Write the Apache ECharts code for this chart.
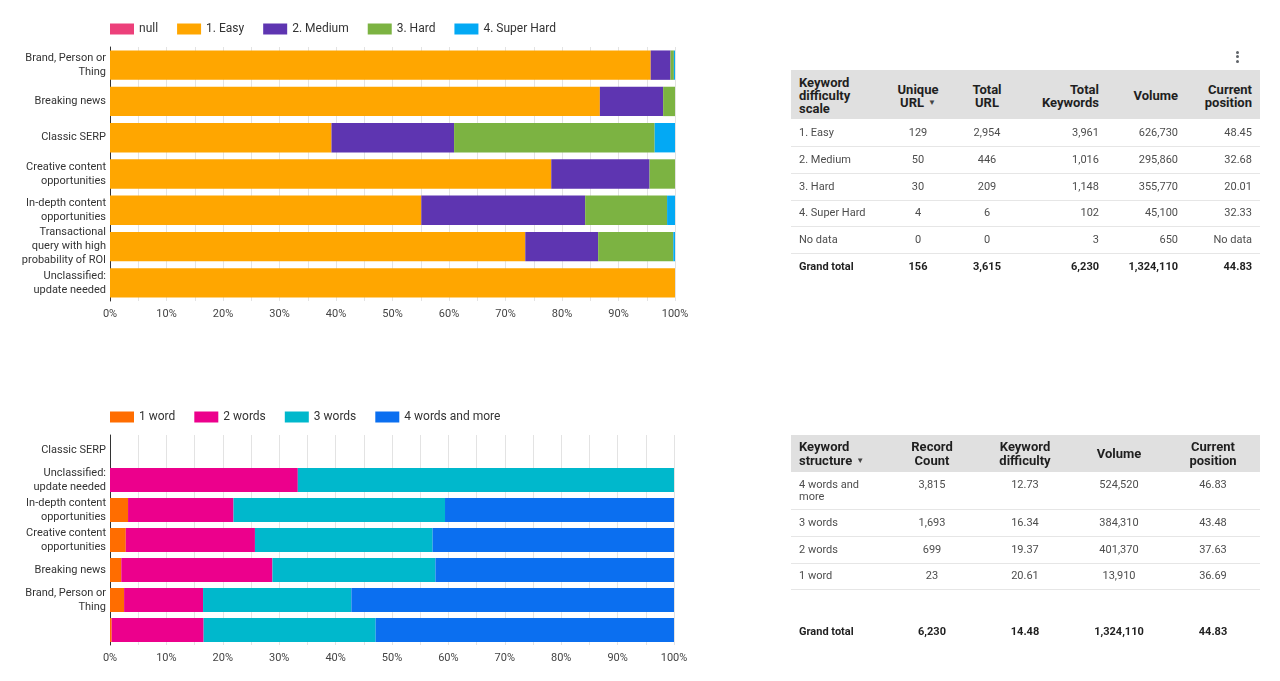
<!DOCTYPE html>
<html>
<head>
<meta charset="utf-8">
<script src="https://cdn.jsdelivr.net/npm/echarts/dist/echarts.min.js"></script>
<style>
html,body{margin:0;padding:0;background:#fff;width:1280px;height:681px;overflow:hidden;}
#chart{position:absolute;left:0;top:0;width:1280px;height:681px;}
.t{position:absolute;font-family:Roboto,"Noto Sans",sans-serif;font-size:11px;white-space:pre;color:#4d4d4d;}
.h{font-weight:bold;color:#1f1f1f;font-size:13px;}
.caret{font-size:8px;color:#444;vertical-align:2px;margin-left:4px;}
.g{font-weight:bold;color:#1f1f1f;}
.bg{position:absolute;background:#e0e0e0;}
.sep{position:absolute;height:1px;background:#e6e6e6;}
.dot{position:absolute;width:3px;height:3px;border-radius:50%;background:#5f6368;}
</style>
</head>
<body>
<div id="chart"></div>
<div id="tables"></div>
<script>
// ---------- Data: chart 1 (keyword difficulty share per category, %) ----------
const difficultyCategories = ['Brand, Person or\nThing', 'Breaking news', 'Classic SERP', 'Creative content\nopportunities', 'In-depth content\nopportunities', 'Transactional\nquery with high\nprobability of ROI', 'Unclassified:\nupdate needed'];
const difficultyNames = ['null', '1. Easy', '2. Medium', '3. Hard', '4. Super Hard'];
const nullShare      = [0, 0, 0, 0, 0, 0, 0];
const easyShare      = [95.7, 86.7, 39.2, 78.1, 55.1, 73.5, 100];
const mediumShare    = [3.5, 11.2, 21.7, 17.4, 29.0, 12.9, 0];
const hardShare      = [0.6, 2.1, 35.5, 4.5, 14.5, 13.3, 0];
const superHardShare = [0.2, 0, 3.6, 0, 1.4, 0.3, 0];

// ---------- Data: chart 2 (keyword structure share per category, %) ----------
const structureCategories = ['Classic SERP', 'Unclassified:\nupdate needed', 'In-depth content\nopportunities', 'Creative content\nopportunities', 'Breaking news', 'Brand, Person or\nThing', ''];
const structureNames = ['1 word', '2 words', '3 words', '4 words and more'];
const oneWordShare   = [0, 0, 3.2, 2.8, 2.0, 2.5, 0.3];
const twoWordsShare  = [0, 33.3, 18.7, 22.9, 26.8, 14.0, 16.3];
const threeWordsShare= [0, 66.7, 37.5, 31.5, 28.9, 26.3, 30.5];
const fourPlusShare  = [0, 0, 40.6, 42.8, 42.3, 57.2, 52.9];

const percentTicks = [0, 10, 20, 30, 40, 50, 60, 70, 80, 90, 100];

// ---------- Data: tables ----------
const difficultyHeaders = ['Keyword\ndifficulty\nscale', 'Unique\nURL', 'Total\nURL', 'Total\nKeywords', 'Volume', 'Current\nposition'];
const difficultySortCol = 1;
const difficultyRows = [
  ['1. Easy', '129', '2,954', '3,961', '626,730', '48.45'],
  ['2. Medium', '50', '446', '1,016', '295,860', '32.68'],
  ['3. Hard', '30', '209', '1,148', '355,770', '20.01'],
  ['4. Super Hard', '4', '6', '102', '45,100', '32.33'],
  ['No data', '0', '0', '3', '650', 'No data']
];
const difficultyTotal = ['Grand total', '156', '3,615', '6,230', '1,324,110', '44.83'];

const structureHeaders = ['Keyword\nstructure', 'Record\nCount', 'Keyword\ndifficulty', 'Volume', 'Current\nposition'];
const structureSortCol = 0;
const structureRows = [
  ['4 words and\nmore', '3,815', '12.73', '524,520', '46.83'],
  ['3 words', '1,693', '16.34', '384,310', '43.48'],
  ['2 words', '699', '19.37', '401,370', '37.63'],
  ['1 word', '23', '20.61', '13,910', '36.69']
];
const structureTotal = ['Grand total', '6,230', '14.48', '1,324,110', '44.83'];

// ---------- Chart ----------
const difficultyColors = ['#ec407a', '#ffa600', '#5e35b1', '#7cb342', '#03a9f4'];
const structureColors = ['#ff6d00', '#ec008c', '#00b8cc', '#0b6ff0'];
const font = 'Roboto';

function valueAxis(gridIndex) {
  return {
    type: 'value', gridIndex: gridIndex, min: 0, max: 100, interval: 5,
    axisLine: {show: false}, axisTick: {show: false},
    splitLine: {show: true, lineStyle: {color: '#e3e3e3', width: 1}},
    axisLabel: {
      fontFamily: font, fontSize: 11, color: '#444', margin: 8,
      formatter: function (v) { return percentTicks.indexOf(v) >= 0 ? v + '%' : ''; }
    }
  };
}
function catAxis(gridIndex, data) {
  return {
    type: 'category', gridIndex: gridIndex, inverse: true, data: data,
    axisLine: {show: true, lineStyle: {color: '#333', width: 1}},
    axisTick: {show: false},
    axisLabel: {fontFamily: font, fontSize: 11, color: '#333', lineHeight: 14, margin: 4, interval: 0}
  };
}

const diffData = [nullShare, easyShare, mediumShare, hardShare, superHardShare];
const structData = [oneWordShare, twoWordsShare, threeWordsShare, fourPlusShare];

const series = [];
difficultyNames.forEach(function (n, i) {
  series.push({
    name: n, type: 'bar', stack: 'diff', xAxisIndex: 0, yAxisIndex: 0,
    barCategoryGap: '19%', itemStyle: {color: difficultyColors[i]},
    data: diffData[i], silent: true
  });
});
structureNames.forEach(function (n, i) {
  series.push({
    name: n, type: 'bar', stack: 'struct', xAxisIndex: 1, yAxisIndex: 1,
    barCategoryGap: '20%', itemStyle: {color: structureColors[i]},
    data: structData[i], silent: true
  });
});

const legendStyle = {fontFamily: font, fontSize: 12, color: '#333'};
const chart = echarts.init(document.getElementById('chart'), null, {renderer: 'canvas'});
chart.setOption({
  animation: false,
  textStyle: {fontFamily: font},
  legend: [
    {data: difficultyNames, left: 105, top: 18, icon: 'rect', itemWidth: 24, itemHeight: 11, itemGap: 19, textStyle: legendStyle, selectedMode: false},
    {data: structureNames, left: 105, top: 406, icon: 'rect', itemWidth: 24, itemHeight: 11, itemGap: 19, textStyle: legendStyle, selectedMode: false}
  ],
  grid: [
    {left: 110, top: 47, width: 565, height: 254},
    {left: 110, top: 435, width: 564, height: 210}
  ],
  xAxis: [valueAxis(0), valueAxis(1)],
  yAxis: [catAxis(0, difficultyCategories), catAxis(1, structureCategories)],
  series: series
});

// ---------- Tables (HTML text) ----------
const host = document.getElementById('tables');
function place(d, x, align) {
  if (align === 'left') { d.style.left = x + 'px'; d.style.textAlign = 'left'; }
  else if (align === 'right') { d.style.right = (1280 - x) + 'px'; d.style.textAlign = 'right'; }
  else { d.style.left = (x - 100) + 'px'; d.style.width = '200px'; d.style.textAlign = 'center'; }
}
function add(cls, text, x, yFirst, align, lh) {
  const d = document.createElement('div');
  d.className = 't ' + cls;
  d.textContent = text;
  d.style.top = (yFirst - lh / 2) + 'px';
  d.style.lineHeight = lh + 'px';
  place(d, x, align);
  host.appendChild(d);
}
function box(cls, x, y, w, h) {
  const d = document.createElement('div');
  d.className = cls;
  d.style.left = x + 'px'; d.style.top = y + 'px'; d.style.width = w + 'px';
  if (h) d.style.height = h + 'px';
  host.appendChild(d);
}
function headerCell(text, x, yMid, align, lh, sorted) {
  const lines = text.split('\n').length;
  const d = document.createElement('div');
  d.className = 't h';
  d.textContent = text;
  if (sorted) {
    const s = document.createElement('span');
    s.className = 'caret';
    s.textContent = '\u25BC';
    d.appendChild(s);
  }
  d.style.lineHeight = lh + 'px';
  d.style.top = (yMid - lines * lh / 2) + 'px';
  place(d, x, align);
  host.appendChild(d);
}

// Table 1
const t1x = [799, 918, 987, 1099, 1178, 1252];
const t1a = ['left', 'center', 'center', 'right', 'right', 'right'];
box('bg', 791, 70, 469, 49);
difficultyHeaders.forEach(function (h, c) { headerCell(h, t1x[c], 95.5, t1a[c], 13, c === difficultySortCol); });
difficultyRows.forEach(function (r, i) {
  const y = 132.7 + i * 26.7;
  r.forEach(function (v, c) { add('b', v, t1x[c], y, t1a[c], 13); });
  box('sep', 791, Math.round(y + 13.5), 469);
});
difficultyTotal.forEach(function (v, c) { add('g', v, t1x[c], 266.5, t1a[c], 13); });
[52, 56.5, 61].forEach(function (y) { box('dot', 1235.5, y - 1.5, 3, 3); });

// Table 2
const t2x = [799, 932, 1025, 1119, 1213];
const t2a = ['left', 'center', 'center', 'center', 'center'];
box('bg', 791, 435, 469, 37);
structureHeaders.forEach(function (h, c) { headerCell(h, t2x[c], 453.7, t2a[c], 14, c === structureSortCol); });
const t2y = [485, 522.7, 549.3, 576];
const t2sep = [509, 536, 563, 589];
structureRows.forEach(function (r, i) {
  r.forEach(function (v, c) { add('b', v, t2x[c], t2y[i], t2a[c], 11.5); });
  box('sep', 791, t2sep[i], 469);
});
structureTotal.forEach(function (v, c) { add('g', v, t2x[c], 631.7, t2a[c], 13); });
</script>
</body>
</html>
